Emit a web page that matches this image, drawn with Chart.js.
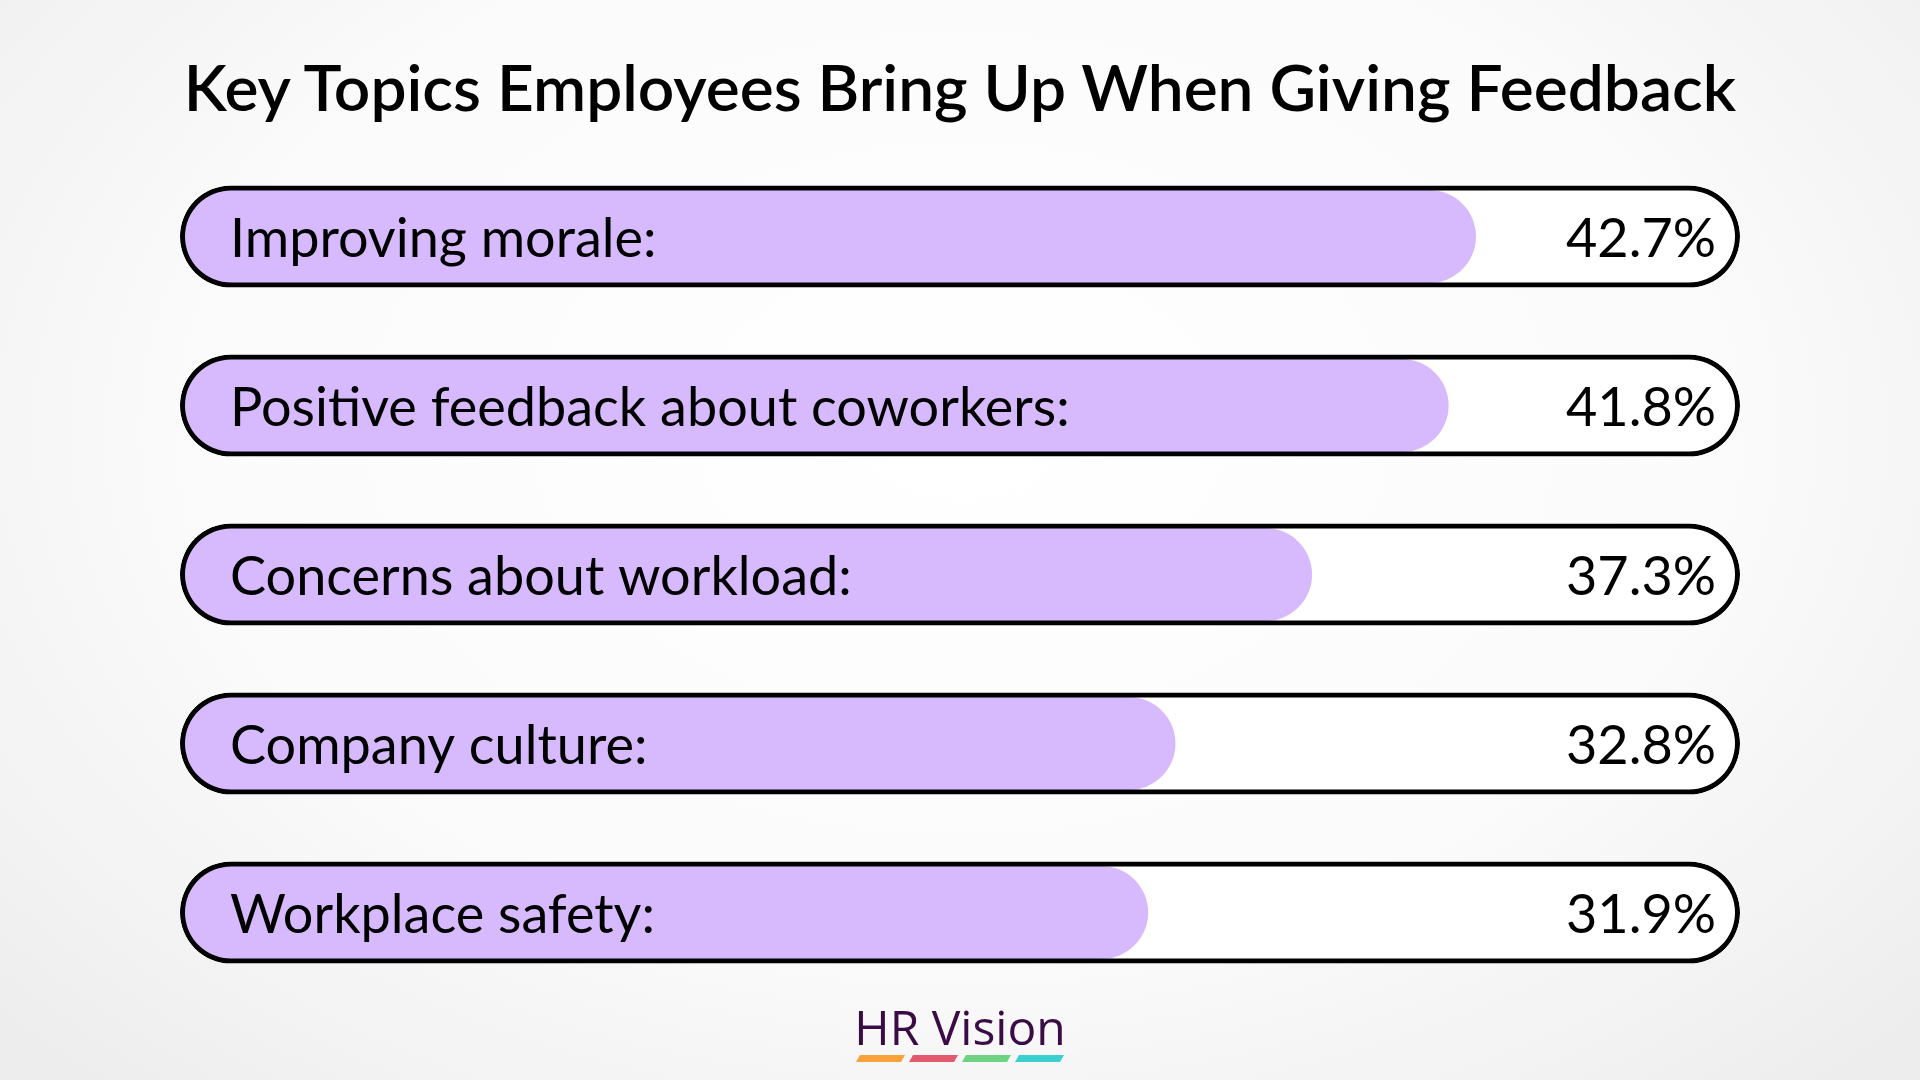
<!DOCTYPE html>
<html>
<head>
<meta charset="utf-8">
<script src="https://cdn.jsdelivr.net/npm/chart.js@4.4.1/dist/chart.umd.min.js"></script>
<style>
  html, body { margin: 0; padding: 0; }
  body {
    width: 1920px; height: 1080px; overflow: hidden; position: relative;
    background: radial-gradient(ellipse at 50% 40%, #ffffff 0%, #fbfbfb 55%, #ececec 100%);
    font-family: Lato, sans-serif;
  }
  #title {
    position: absolute; top: 48px; left: 0; width: 1920px; text-align: center;
    font-size: 64px; font-weight: 600; color: #000;
  }
  #wrap { position: absolute; left: 0; top: 0; width: 1920px; height: 1080px; }
  #logo {
    position: absolute; top: 994px; left: 0; width: 1920px; text-align: center;
    font-family: "Open Sans", sans-serif; font-size: 48px; color: #3a0b44;
  }
  #stripes { position: absolute; top: 1055px; left: 858px; display: flex; gap: 8px; }
  #stripes span { display: block; width: 45px; height: 7px; transform: skewX(-30deg); }
</style>
</head>
<body>
<div id="title">Key Topics Employees Bring Up When Giving Feedback</div>
<div id="wrap"><canvas id="chart" width="1920" height="1080"></canvas></div>
<div id="logo">HR Vision</div>
<div id="stripes">
  <span style="background:#f7a23b"></span>
  <span style="background:#e35a6e"></span>
  <span style="background:#6fd283"></span>
  <span style="background:#3ccfd0"></span>
</div>
<script>
const categories = ['Improving morale:', 'Positive feedback about coworkers:', 'Concerns about workload:', 'Company culture:', 'Workplace safety:'];
const values = [42.7, 41.8, 37.3, 32.8, 31.9];
const axisMax = 51.4;
const tracks = categories.map(() => axisMax);

const labelPlugin = {
    id: 'barLabels',
    afterDatasetsDraw(chart) {
        const ctx = chart.ctx;
        const x = chart.scales.x;
        const y = chart.scales.y;
        ctx.save();
        ctx.font = '54px Lato, sans-serif';
        ctx.fillStyle = '#000';
        ctx.textBaseline = 'middle';
        categories.forEach((cat, i) => {
            const yc = y.getPixelForValue(i) + 3;
            ctx.textAlign = 'left';
            ctx.fillText(cat, x.getPixelForValue(0) + 50, yc);
            ctx.textAlign = 'right';
            ctx.fillText(values[i].toFixed(1) + '%', x.getPixelForValue(axisMax) - 24, yc);
        });
        ctx.restore();
    }
};

new Chart(document.getElementById('chart'), {
    type: 'bar',
    data: {
        labels: categories,
        datasets: [{
            data: tracks,
            backgroundColor: '#ffffff',
            borderWidth: 0,
            borderRadius: 60,
            borderSkipped: false,
            barPercentage: 0.59,
            order: 3
        }, {
            data: values,
            backgroundColor: '#d7bafe',
            borderWidth: 0,
            borderRadius: 60,
            borderSkipped: false,
            barPercentage: 0.55,
            order: 2
        }, {
            data: tracks,
            backgroundColor: 'rgba(0,0,0,0)',
            borderColor: '#000',
            borderWidth: 5,
            borderRadius: 60,
            borderSkipped: false,
            barPercentage: 0.605,
            order: 1
        }]
    },
    options: {
        indexAxis: 'y',
        responsive: false,
        animation: false,
        datasets: { bar: { grouped: false, categoryPercentage: 1 } },
        layout: { padding: { left: 180, right: 180, top: 152, bottom: 83 } },
        scales: {
            x: { display: false, min: 0, max: axisMax },
            y: { display: false }
        },
        plugins: { legend: { display: false }, tooltip: { enabled: false } }
    },
    plugins: [labelPlugin]
});
</script>
</body>
</html>
